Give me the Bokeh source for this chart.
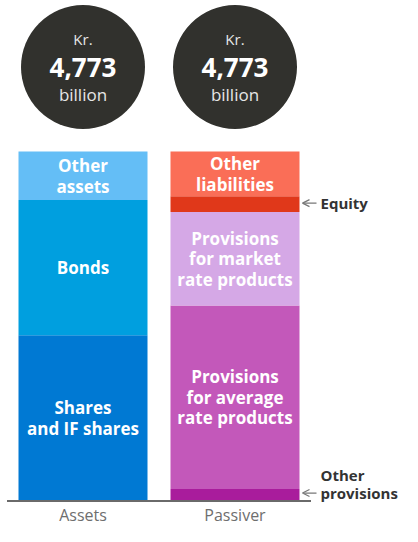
from bokeh.plotting import figure
from bokeh.models import ColumnDataSource, Arrow, OpenHead
from bokeh.core.properties import value
from bokeh.embed import file_html
from bokeh.resources import INLINE

# ---- data (Kr. billion) ----
categories = ["Assets", "Passiver"]
asset_labels = ["Shares\nand IF shares", "Bonds", "Other\nassets"]
asset_values = [2265, 1844, 664]
asset_colors = ["#0079D3", "#009FDF", "#64BEF6"]

liab_labels = ["", "Provisions\nfor average\nrate products", "Provisions\nfor market\nrate products", "", "Other\nliabilities"]
liab_values = [163, 2508, 1275, 217, 610]
liab_colors = ["#A91C9C", "#C358BA", "#D5A8E6", "#E0381A", "#FA6E57"]

side_notes = {"Equity": 3, "Other\nprovisions": 0}   # label -> index in liability stack

FONT = value("Open Sans")
LH = 0.9

# ---- layout constants ----
W, H = 402, 526
zero_px = 500.5            # pixel (from top) of value 0
top_px = 151.0             # pixel of bar top
total = sum(asset_values)
s = total / (zero_px - top_px)   # value units per pixel
px_per_x = 152.0
x0_px = 82.5
bar_w = 129 / px_per_x

p = figure(width=W, height=H, output_backend="svg", toolbar_location=None,
           x_range=(-x0_px / px_per_x, (W - x0_px) / px_per_x),
           y_range=(-(H - zero_px) * s, zero_px * s),
           min_border=0, outline_line_color=None)
p.axis.visible = False
p.grid.visible = False
p.background_fill_color = "white"
p.border_fill_color = "white"


def stack(xpos, labels, values, colors):
    bottoms, tops = [], []
    acc = 0
    for v in values:
        bottoms.append(acc)
        acc += v
        tops.append(acc)
    src = ColumnDataSource(dict(x=[xpos] * len(values), bottom=bottoms, top=tops,
                                color=colors, label=labels,
                                mid=[(b + t) / 2 for b, t in zip(bottoms, tops)]))
    p.vbar(x="x", width=bar_w, bottom="bottom", top="top", fill_color="color",
           line_color=None, source=src)
    p.text(x="x", y="mid", text="label", source=src, text_font=FONT,
           text_font_style="bold", text_font_size="17px", text_color="white",
           text_align="center", text_baseline="middle", text_line_height=LH)
    return bottoms, tops, acc


stack(0, asset_labels, asset_values, asset_colors)
lb, lt, ltotal = stack(1, liab_labels, liab_values, liab_colors)

# baseline
p.segment(x0=[-0.5], y0=[0], x1=[1.5], y1=[0], line_color="#6A6A6A", line_width=2)

# category labels
p.text(x=[0, 1], y=[-13.5 * s] * 2, text=categories, text_font=FONT,
       text_font_size="16px", text_color="#6E6E6E", text_align="center",
       text_baseline="middle")

# totals in circles
totals = [sum(asset_values), sum(liab_values)]
cy = [t + 84.5 * s for t in totals]
p.scatter(x=[0, 1], y=cy, size=124, marker="circle", fill_color="#31312D", line_color=None)
p.text(x=[0, 1], y=[c + 28 * s for c in cy], text=["Kr."] * 2, text_font=FONT,
       text_font_size="15px", text_color="#E6E6E6", text_align="center", text_baseline="middle")
p.text(x=[0, 1], y=[c - 0.5 * s for c in cy], text=[f"{t:,}" for t in totals], text_font=FONT,
       text_font_style="bold", text_font_size="26px", text_color="white",
       text_align="center", text_baseline="middle")
p.text(x=[0, 1], y=[c - 27 * s for c in cy], text=["billion"] * 2, text_font=FONT,
       text_font_size="17px", text_color="#E6E6E6", text_align="center", text_baseline="middle")

# side notes with arrows
right_edge = 1 + bar_w / 2
for lab, idx in side_notes.items():
    ymid = (lb[idx] + lt[idx]) / 2
    if "\n" in lab:
        ymid += 2 * s
    else:
        ymid += 1 * s
    p.add_layout(Arrow(end=OpenHead(size=7, line_color="#777777", line_width=1.3),
                       x_start=right_edge + 17 / px_per_x, y_start=ymid,
                       x_end=right_edge + 3 / px_per_x, y_end=ymid,
                       line_color="#777777", line_width=1.3))
    nlines = lab.count("\n")
    p.text(x=[right_edge + 21 / px_per_x], y=[ymid + nlines * 9.5 * s], text=[lab],
           text_font=FONT, text_font_style="bold", text_font_size="15px",
           text_color="#333333", text_align="left", text_baseline="middle",
           text_line_height=LH)

open("out.html", "w").write(file_html(p, INLINE))
